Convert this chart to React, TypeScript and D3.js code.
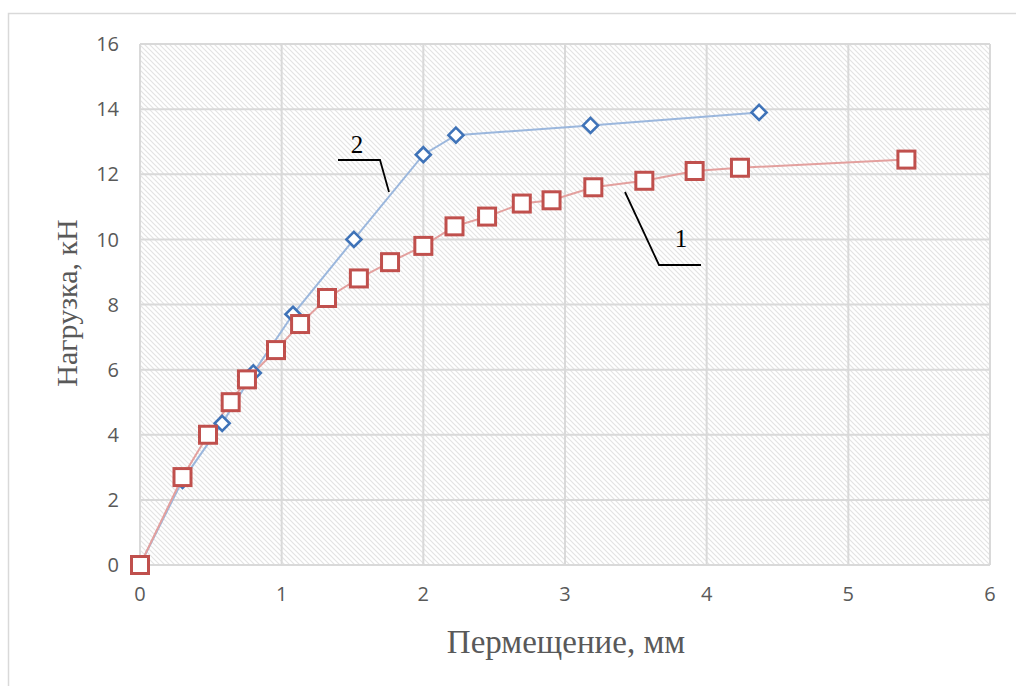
import React from "react";
import * as d3 from "d3";

const series1X = [0, 0.3, 0.48, 0.64, 0.755, 0.96, 1.13, 1.32, 1.545, 1.765, 2.0, 2.22, 2.45, 2.695, 2.905, 3.2, 3.56, 3.915, 4.235, 5.41];
const series1Y = [0, 2.7, 4.0, 5.0, 5.7, 6.6, 7.4, 8.2, 8.8, 9.3, 9.8, 10.4, 10.7, 11.1, 11.2, 11.6, 11.8, 12.1, 12.2, 12.45];
const series2X = [0, 0.3, 0.58, 0.8, 1.08, 1.51, 2.0, 2.23, 3.18, 4.37];
const series2Y = [0, 2.6, 4.35, 5.9, 7.7, 10.0, 12.6, 13.2, 13.5, 13.9];
const xTicks = [0, 1, 2, 3, 4, 5, 6];
const yTicks = [0, 2, 4, 6, 8, 10, 12, 14, 16];
const xTitle = "Пермещение, мм";
const yTitle = "Нагрузка, кН";

export default function App() {
  const W = 1016, H = 686;
  const left = 140, right = 990, top = 44, bottom = 565;
  const x = d3.scaleLinear().domain([0, 6]).range([left, right]);
  const y = d3.scaleLinear().domain([0, 16]).range([bottom, top]);
  const line = d3.line<[number, number]>().x(d => x(d[0])).y(d => y(d[1]));
  const s1 = series1X.map((v, i) => [v, series1Y[i]] as [number, number]);
  const s2 = series2X.map((v, i) => [v, series2Y[i]] as [number, number]);
  const tickFont = "'Open Sans', 'Liberation Sans', sans-serif";
  const serif = "'Liberation Serif', 'DejaVu Serif', serif";
  return (
    <svg width={W} height={H} style={{ position: "absolute", left: 0, top: 0, display: "block" }}>
      <defs>
        <pattern id="hatch" width="5" height="5" patternUnits="userSpaceOnUse">
          <rect width="5" height="5" fill="#ffffff" />
          <path d="M-1,-1 L6,6 M-1,4 L1,6 M4,-1 L6,1" stroke="#e3e3e3" strokeWidth="1.1" />
        </pattern>
      </defs>
      <rect x={0} y={0} width={W} height={H} fill="#ffffff" />
      <rect x={8.5} y={13.5} width={W + 20} height={H + 20} fill="#ffffff" stroke="#d9d9d9" strokeWidth={1.5} />
      <rect x={left} y={top} width={right - left} height={bottom - top} fill="url(#hatch)" />
      {yTicks.map(t => (
        <line key={"gy" + t} x1={left} x2={right} y1={y(t)} y2={y(t)} stroke="#d9d9d9" strokeWidth={2} />
      ))}
      {xTicks.map(t => (
        <line key={"gx" + t} x1={x(t)} x2={x(t)} y1={top} y2={bottom} stroke="#d9d9d9" strokeWidth={2} />
      ))}
      {yTicks.map(t => (
        <text key={"ty" + t} x={119} y={y(t)} dy="0.36em" textAnchor="end" fontFamily={tickFont} fontSize={20} fill="#595959">{t}</text>
      ))}
      {xTicks.map(t => (
        <text key={"tx" + t} x={x(t)} y={601} textAnchor="middle" fontFamily={tickFont} fontSize={20} fill="#595959">{t}</text>
      ))}
      <text x={566} y={653} textAnchor="middle" fontFamily={serif} fontSize={33} fill="#595959">{xTitle}</text>
      <text transform={`translate(77,${303}) rotate(-90)`} textAnchor="middle" fontFamily={serif} fontSize={30} fill="#595959">{yTitle}</text>

      <path d={line(s2) || ""} fill="none" stroke="#9bb7dd" strokeWidth={2} />
      <path d={line(s1) || ""} fill="none" stroke="#e3a09e" strokeWidth={2} />
      {s2.map((d, i) => {
        const cx = x(d[0]), cy = y(d[1]), r = 7.5;
        return (
          <path key={"d" + i} d={`M${cx},${cy - r} L${cx + r},${cy} L${cx},${cy + r} L${cx - r},${cy} Z`} fill="#ffffff" stroke="#3f73b8" strokeWidth={2.6} />
        );
      })}
      {s1.map((d, i) => {
        const cx = x(d[0]), cy = y(d[1]), s = 17;
        return (
          <rect key={"s" + i} x={cx - s / 2} y={cy - s / 2} width={s} height={s} fill="#ffffff" stroke="#c0504d" strokeWidth={3} />
        );
      })}

      <polyline points="338,160 380,160 389,192" fill="none" stroke="#000" strokeWidth={1.8} />
      <text x={357} y={153} textAnchor="middle" fontFamily={serif} fontSize={25} fill="#000">2</text>
      <polyline points="625,192 659,265 701,265" fill="none" stroke="#000" strokeWidth={1.8} />
      <text x={681} y={247} textAnchor="middle" fontFamily={serif} fontSize={25} fill="#000">1</text>
    </svg>
  );
}
